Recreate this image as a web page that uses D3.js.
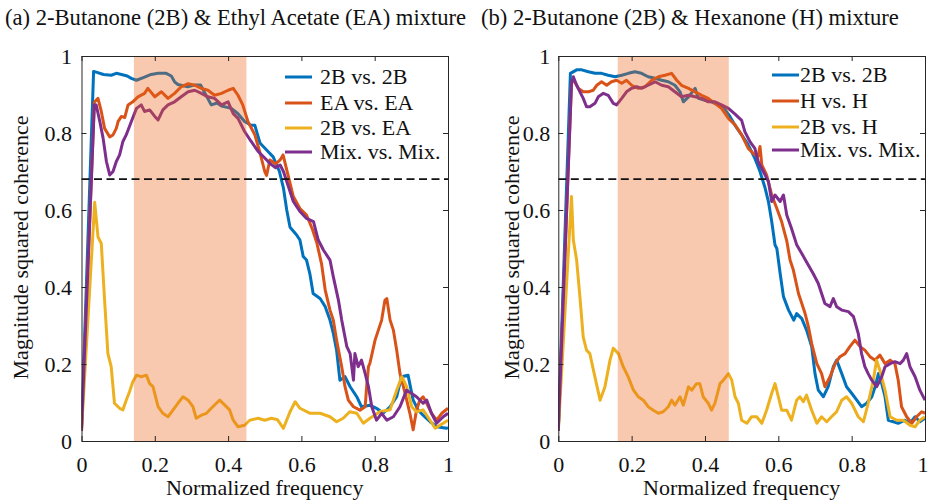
<!DOCTYPE html>
<html><head><meta charset="utf-8">
<script src="https://cdn.jsdelivr.net/npm/d3@7"></script>
<style>body{margin:0;background:#fff}svg{display:block}</style>
</head><body>
<script>
// ---------------- data ----------------
const freqTicks = [0, 0.2, 0.4, 0.6, 0.8, 1];
const freqTickLabels = ["0", "0.2", "0.4", "0.6", "0.8", "1"];
const cohTicks = [0, 0.2, 0.4, 0.6, 0.8, 1];
const cohTickLabels = ["0", "0.2", "0.4", "0.6", "0.8", "1"];
const threshold = 0.68;
const bandA = [0.143, 0.45];
const bandB = [0.162, 0.465];
const titles = ["(a) 2-Butanone (2B) & Ethyl Acetate (EA) mixture", "(b) 2-Butanone (2B) & Hexanone (H) mixture"];
const legendA = ["2B vs. 2B", "EA vs. EA", "2B vs. EA", "Mix. vs. Mix."];
const legendB = ["2B vs. 2B", "H vs. H", "2B vs. H", "Mix. vs. Mix."];
const xLabel = "Normalized frequency";
const yLabel = "Magnitude squared coherence";

// panel (a)
const a_2B = [[0,0.03],[0.033,0.96],[0.04,0.958],[0.06,0.952],[0.081,0.95],[0.095,0.955],[0.109,0.952],[0.125,0.948],[0.136,0.942],[0.15,0.937],[0.172,0.945],[0.19,0.952],[0.209,0.955],[0.231,0.955],[0.245,0.948],[0.254,0.933],[0.263,0.926],[0.29,0.92],[0.31,0.925],[0.325,0.925],[0.336,0.905],[0.354,0.873],[0.37,0.878],[0.382,0.87],[0.409,0.864],[0.427,0.85],[0.445,0.83],[0.463,0.82],[0.473,0.82],[0.487,0.774],[0.505,0.756],[0.523,0.738],[0.54,0.7],[0.551,0.657],[0.56,0.6],[0.569,0.555],[0.587,0.535],[0.596,0.522],[0.605,0.479],[0.614,0.47],[0.623,0.435],[0.632,0.383],[0.651,0.37],[0.665,0.349],[0.678,0.314],[0.687,0.28],[0.696,0.236],[0.705,0.158],[0.719,0.167],[0.733,0.141],[0.751,0.115],[0.764,0.089],[0.787,0.093],[0.805,0.085],[0.823,0.072],[0.842,0.089],[0.86,0.115],[0.873,0.167],[0.891,0.171],[0.905,0.106],[0.919,0.08],[0.932,0.067],[0.951,0.05],[0.969,0.037],[0.996,0.033],[1,0.035]];
const a_EA = [[0,0.03],[0.035,0.88],[0.045,0.89],[0.054,0.856],[0.063,0.812],[0.077,0.79],[0.086,0.795],[0.095,0.812],[0.1,0.83],[0.109,0.843],[0.118,0.84],[0.127,0.873],[0.14,0.881],[0.154,0.894],[0.172,0.903],[0.181,0.916],[0.2,0.894],[0.218,0.907],[0.236,0.89],[0.254,0.903],[0.272,0.92],[0.291,0.928],[0.309,0.924],[0.327,0.916],[0.345,0.911],[0.363,0.898],[0.382,0.903],[0.4,0.911],[0.414,0.916],[0.427,0.898],[0.44,0.873],[0.454,0.83],[0.473,0.795],[0.486,0.752],[0.5,0.7],[0.505,0.69],[0.514,0.73],[0.53,0.72],[0.542,0.73],[0.55,0.743],[0.56,0.704],[0.578,0.635],[0.596,0.604],[0.614,0.587],[0.63,0.55],[0.642,0.515],[0.655,0.46],[0.665,0.392],[0.678,0.34],[0.687,0.314],[0.696,0.262],[0.71,0.193],[0.719,0.141],[0.728,0.106],[0.742,0.089],[0.76,0.08],[0.774,0.089],[0.778,0.141],[0.783,0.193],[0.787,0.202],[0.801,0.262],[0.81,0.288],[0.819,0.314],[0.828,0.366],[0.833,0.37],[0.842,0.314],[0.851,0.288],[0.86,0.236],[0.869,0.175],[0.883,0.124],[0.896,0.072],[0.905,0.029],[0.914,0.08],[0.923,0.106],[0.932,0.115],[0.942,0.098],[0.955,0.072],[0.969,0.054],[0.983,0.072],[1,0.085]];
const a_cross = [[0,0.026],[0.036,0.62],[0.045,0.53],[0.054,0.513],[0.063,0.366],[0.072,0.227],[0.081,0.193],[0.09,0.098],[0.104,0.085],[0.113,0.081],[0.122,0.106],[0.131,0.128],[0.14,0.154],[0.15,0.171],[0.163,0.167],[0.177,0.171],[0.186,0.149],[0.195,0.141],[0.209,0.089],[0.222,0.072],[0.236,0.063],[0.25,0.081],[0.263,0.098],[0.277,0.115],[0.291,0.106],[0.304,0.089],[0.313,0.059],[0.327,0.067],[0.341,0.072],[0.354,0.085],[0.368,0.098],[0.377,0.106],[0.391,0.093],[0.404,0.081],[0.414,0.054],[0.427,0.037],[0.445,0.041],[0.459,0.054],[0.482,0.059],[0.5,0.054],[0.518,0.059],[0.535,0.055],[0.551,0.033],[0.569,0.076],[0.583,0.102],[0.596,0.085],[0.624,0.072],[0.651,0.072],[0.678,0.063],[0.696,0.05],[0.714,0.059],[0.732,0.076],[0.751,0.072],[0.769,0.046],[0.787,0.059],[0.814,0.076],[0.842,0.081],[0.86,0.132],[0.874,0.167],[0.887,0.141],[0.901,0.089],[0.914,0.076],[0.932,0.081],[0.951,0.054],[0.965,0.033],[0.978,0.041],[1,0.054]];
const a_mix = [[0,0.026],[0.035,0.873],[0.04,0.873],[0.05,0.83],[0.059,0.786],[0.068,0.726],[0.077,0.691],[0.086,0.7],[0.095,0.726],[0.104,0.743],[0.113,0.778],[0.122,0.795],[0.136,0.83],[0.15,0.864],[0.163,0.873],[0.172,0.856],[0.186,0.86],[0.2,0.843],[0.209,0.834],[0.222,0.86],[0.236,0.873],[0.254,0.881],[0.272,0.894],[0.291,0.907],[0.309,0.911],[0.327,0.903],[0.345,0.894],[0.363,0.89],[0.382,0.873],[0.4,0.881],[0.414,0.85],[0.427,0.838],[0.445,0.804],[0.463,0.778],[0.482,0.752],[0.5,0.735],[0.515,0.72],[0.53,0.71],[0.542,0.717],[0.551,0.7],[0.56,0.674],[0.578,0.622],[0.596,0.596],[0.614,0.578],[0.633,0.57],[0.646,0.522],[0.66,0.496],[0.678,0.47],[0.687,0.427],[0.701,0.366],[0.71,0.314],[0.724,0.245],[0.733,0.227],[0.742,0.158],[0.746,0.227],[0.755,0.193],[0.764,0.21],[0.774,0.175],[0.783,0.141],[0.792,0.089],[0.805,0.054],[0.819,0.072],[0.833,0.054],[0.851,0.063],[0.869,0.089],[0.887,0.132],[0.9,0.124],[0.914,0.115],[0.932,0.098],[0.942,0.106],[0.955,0.072],[0.969,0.046],[0.987,0.063],[1,0.072]];

// panel (b)
const b_2B = [[0,0.03],[0.033,0.955],[0.05,0.964],[0.064,0.964],[0.082,0.959],[0.1,0.955],[0.118,0.955],[0.136,0.95],[0.155,0.946],[0.173,0.95],[0.191,0.955],[0.209,0.959],[0.227,0.955],[0.245,0.946],[0.264,0.942],[0.282,0.937],[0.3,0.933],[0.318,0.924],[0.332,0.907],[0.341,0.881],[0.355,0.894],[0.373,0.916],[0.382,0.89],[0.4,0.885],[0.418,0.881],[0.436,0.873],[0.455,0.86],[0.468,0.843],[0.482,0.82],[0.5,0.795],[0.518,0.769],[0.536,0.734],[0.55,0.7],[0.564,0.657],[0.573,0.622],[0.582,0.57],[0.591,0.509],[0.596,0.5],[0.605,0.435],[0.614,0.375],[0.628,0.34],[0.642,0.314],[0.65,0.331],[0.664,0.318],[0.677,0.288],[0.691,0.245],[0.7,0.175],[0.709,0.132],[0.723,0.115],[0.736,0.141],[0.75,0.193],[0.759,0.21],[0.773,0.175],[0.786,0.141],[0.8,0.124],[0.814,0.106],[0.827,0.089],[0.841,0.098],[0.855,0.115],[0.864,0.141],[0.873,0.175],[0.882,0.149],[0.891,0.115],[0.9,0.054],[0.914,0.05],[0.927,0.046],[0.945,0.054],[0.959,0.046],[0.973,0.063],[0.986,0.05],[1,0.059]];
const b_H = [[0,0.03],[0.036,0.93],[0.041,0.938],[0.055,0.916],[0.068,0.907],[0.082,0.907],[0.095,0.911],[0.105,0.924],[0.118,0.933],[0.132,0.924],[0.145,0.933],[0.159,0.937],[0.173,0.929],[0.186,0.937],[0.2,0.924],[0.218,0.916],[0.236,0.92],[0.255,0.937],[0.273,0.946],[0.291,0.95],[0.309,0.955],[0.323,0.937],[0.336,0.924],[0.355,0.916],[0.373,0.907],[0.391,0.898],[0.409,0.89],[0.427,0.877],[0.445,0.864],[0.464,0.838],[0.482,0.821],[0.5,0.795],[0.518,0.76],[0.536,0.743],[0.545,0.74],[0.55,0.765],[0.555,0.717],[0.568,0.691],[0.582,0.639],[0.596,0.604],[0.609,0.57],[0.623,0.52],[0.632,0.47],[0.641,0.444],[0.655,0.383],[0.664,0.357],[0.673,0.331],[0.682,0.297],[0.691,0.253],[0.705,0.201],[0.718,0.175],[0.727,0.141],[0.741,0.167],[0.755,0.201],[0.768,0.219],[0.782,0.227],[0.795,0.245],[0.809,0.262],[0.823,0.245],[0.836,0.236],[0.85,0.219],[0.864,0.21],[0.877,0.223],[0.891,0.201],[0.905,0.21],[0.918,0.201],[0.927,0.158],[0.936,0.089],[0.95,0.063],[0.964,0.046],[0.977,0.063],[0.991,0.076],[1,0.072]];
const b_cross = [[0,0.026],[0.036,0.635],[0.041,0.522],[0.05,0.47],[0.059,0.374],[0.068,0.27],[0.077,0.236],[0.086,0.227],[0.1,0.166],[0.114,0.106],[0.127,0.14],[0.141,0.21],[0.15,0.241],[0.164,0.227],[0.177,0.193],[0.191,0.166],[0.205,0.132],[0.218,0.115],[0.232,0.106],[0.245,0.089],[0.259,0.08],[0.273,0.072],[0.286,0.076],[0.3,0.089],[0.309,0.106],[0.318,0.093],[0.332,0.115],[0.341,0.093],[0.355,0.141],[0.364,0.132],[0.377,0.149],[0.386,0.149],[0.395,0.115],[0.409,0.098],[0.418,0.08],[0.427,0.098],[0.441,0.149],[0.45,0.158],[0.464,0.175],[0.473,0.158],[0.482,0.115],[0.491,0.098],[0.5,0.054],[0.514,0.046],[0.527,0.063],[0.541,0.063],[0.555,0.046],[0.568,0.08],[0.582,0.124],[0.591,0.149],[0.6,0.115],[0.609,0.08],[0.623,0.08],[0.636,0.054],[0.65,0.106],[0.659,0.115],[0.668,0.102],[0.677,0.119],[0.691,0.08],[0.705,0.046],[0.718,0.063],[0.732,0.05],[0.745,0.063],[0.759,0.076],[0.773,0.106],[0.786,0.115],[0.8,0.098],[0.818,0.063],[0.832,0.05],[0.845,0.098],[0.859,0.158],[0.868,0.21],[0.877,0.183],[0.891,0.132],[0.905,0.063],[0.923,0.054],[0.941,0.054],[0.959,0.041],[0.973,0.037],[0.986,0.054],[1,0.063]];
const b_mix = [[0,0.026],[0.036,0.93],[0.041,0.946],[0.05,0.924],[0.059,0.907],[0.068,0.89],[0.077,0.868],[0.086,0.868],[0.1,0.877],[0.109,0.894],[0.123,0.903],[0.136,0.898],[0.15,0.877],[0.159,0.873],[0.173,0.89],[0.186,0.907],[0.2,0.916],[0.214,0.92],[0.227,0.916],[0.245,0.924],[0.264,0.933],[0.282,0.924],[0.3,0.92],[0.318,0.907],[0.336,0.894],[0.355,0.898],[0.373,0.894],[0.391,0.89],[0.409,0.881],[0.427,0.881],[0.445,0.873],[0.464,0.864],[0.482,0.849],[0.5,0.833],[0.509,0.803],[0.523,0.777],[0.536,0.76],[0.545,0.726],[0.559,0.7],[0.573,0.674],[0.582,0.622],[0.591,0.639],[0.605,0.622],[0.614,0.639],[0.623,0.587],[0.636,0.552],[0.65,0.51],[0.664,0.487],[0.677,0.465],[0.695,0.435],[0.709,0.409],[0.718,0.383],[0.727,0.357],[0.741,0.349],[0.75,0.37],[0.759,0.349],[0.773,0.34],[0.791,0.336],[0.805,0.323],[0.818,0.279],[0.827,0.227],[0.836,0.193],[0.845,0.175],[0.855,0.158],[0.868,0.141],[0.882,0.167],[0.891,0.193],[0.905,0.201],[0.918,0.206],[0.932,0.201],[0.941,0.21],[0.95,0.227],[0.959,0.193],[0.973,0.167],[0.986,0.132],[1,0.106]];

// ---------------- styles / layout ----------------
const colors = ["#0072BD", "#D95319", "#EDB120", "#7E2F8E"];
const FONT = "'Liberation Serif', serif";
const TOP = 56, BOTTOM = 441;

const panels = [
  {left: 81.5, right: 448, title: titles[0], titleX: 5, band: bandA, series: [a_2B, a_EA, a_cross, a_mix], legend: legendA, legLineX: 285, legTextX: 320, legY: [77, 103, 128, 152], yLabX: 27.5, tickPad: 9.5},
  {left: 558.3, right: 925, title: titles[1], titleX: 481, band: bandB, series: [b_2B, b_H, b_cross, b_mix], legend: legendB, legLineX: 772, legTextX: 800, legY: [75, 101, 127, 150], yLabX: 518.5, tickPad: 8}
];

const svg = d3.select("body").append("svg").attr("width", 929).attr("height", 502);

function txt(sel, size) {
  return sel.style("font-family", FONT).style("font-size", size + "px").attr("fill", "#111");
}

panels.forEach((p, pi) => {
  const x = d3.scaleLinear().domain([0, 1]).range([p.left, p.right]);
  const y = d3.scaleLinear().domain([0, 1]).range([BOTTOM, TOP]);
  const g = svg.append("g");

  const clipId = "clip" + pi;
  g.append("clipPath").attr("id", clipId).append("rect")
    .attr("x", p.left).attr("y", TOP - 2).attr("width", p.right - p.left).attr("height", BOTTOM - TOP + 2);

  const line = d3.line().x(d => x(d[0])).y(d => y(d[1]));
  const lg = g.append("g").attr("clip-path", `url(#${clipId})`);
  p.series.forEach((s, i) => {
    lg.append("path").datum(s).attr("d", line)
      .attr("fill", "none").attr("stroke", colors[i]).attr("stroke-width", 3)
      .attr("stroke-linejoin", "round");
  });

  // shaded band (semi-transparent overlay)
  g.append("rect").attr("x", x(p.band[0])).attr("width", x(p.band[1]) - x(p.band[0]))
    .attr("y", y(1)).attr("height", y(0) - y(1))
    .attr("fill", "rgb(234,96,20)").attr("fill-opacity", 0.34);

  // threshold
  g.append("line").attr("x1", x(0)).attr("x2", x(1)).attr("y1", y(threshold)).attr("y2", y(threshold))
    .attr("stroke", "#111").attr("stroke-width", 1.8).attr("stroke-dasharray", "8,4.5");

  // axes
  const axCol = "#262626";
  const xb = g.append("g").attr("transform", `translate(0,${BOTTOM})`)
    .call(d3.axisBottom(x).tickValues(freqTicks).tickSizeInner(-5).tickSizeOuter(0).tickPadding(14)
      .tickFormat((d, i) => freqTickLabels[i]));
  const xt = g.append("g").attr("transform", `translate(0,${TOP})`)
    .call(d3.axisTop(x).tickValues(freqTicks).tickSizeInner(-5).tickSizeOuter(0).tickFormat(""));
  const yl = g.append("g").attr("transform", `translate(${p.left},0)`)
    .call(d3.axisLeft(y).tickValues(cohTicks).tickSizeInner(-5).tickSizeOuter(0).tickPadding(p.tickPad)
      .tickFormat((d, i) => cohTickLabels[i]));
  const yr = g.append("g").attr("transform", `translate(${p.right},0)`)
    .call(d3.axisRight(y).tickValues(cohTicks).tickSizeInner(-5).tickSizeOuter(0).tickFormat(""));
  [xb, xt, yl, yr].forEach(a => {
    a.selectAll("path.domain").attr("stroke", axCol).attr("stroke-width", 1);
    a.selectAll(".tick line").attr("stroke", axCol).attr("stroke-width", 1);
    txt(a.selectAll("text"), 22);
  });
  xb.selectAll("text").attr("dy", "0.75em");
  // keep the last label of the right-hand panel inside the window
  if (pi === 1) xb.selectAll(".tick text").filter(d => d === 1).attr("dx", -2.5);

  // axis labels
  txt(g.append("text").attr("x", (p.left + p.right) / 2).attr("y", 495).attr("text-anchor", "middle"), 22).text(xLabel);
  txt(g.append("text").attr("transform", `translate(${p.yLabX},${(TOP + BOTTOM) / 2 - 1}) rotate(-90)`)
    .attr("text-anchor", "middle"), 22).text(yLabel);

  // title
  txt(g.append("text").attr("x", p.titleX).attr("y", 25), 22.6).text(p.title);

  // legend
  p.legend.forEach((lab, i) => {
    g.append("line").attr("x1", p.legLineX).attr("x2", p.legLineX + 27)
      .attr("y1", p.legY[i]).attr("y2", p.legY[i]).attr("stroke", colors[i]).attr("stroke-width", 3);
    txt(g.append("text").attr("x", p.legTextX).attr("y", p.legY[i] + 7), 22).text(lab);
  });
});
</script>
</body></html>
